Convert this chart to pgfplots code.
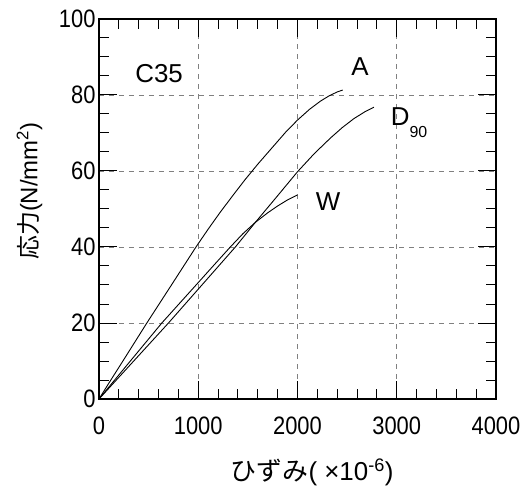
\documentclass[border=0pt]{standalone}
\usepackage{pgfplots}
\pgfplotsset{compat=1.18}
\usepackage{fontspec}
\setmainfont{Liberation Sans}
\newfontfamily\jp{Noto Sans CJK JP}
\begin{document}
\begin{tikzpicture}
\path[use as bounding box] (-99bp,-89bp) rectangle (426bp,399bp);
\begin{axis}[
  at={(0,0)}, anchor=south west,
  scale only axis, width=397bp, height=380bp,
  xmin=0, xmax=4000, ymin=0, ymax=100,
  xtick={0,1000,2000,3000,4000},
  ytick={0,20,40,60,80,100},
  minor x tick num=4, minor y tick num=3,
  tick align=inside,
  major tick length=18bp, minor tick length=10bp,
  xtick pos=both, ytick pos=both,
  grid=major,
  major grid style={gray, line width=0.8bp, dash pattern=on 5bp off 5bp},
  axis line style={line width=1.2bp},
  every tick/.style={black, line width=1bp},
  /pgf/number format/assume math mode=true,
  /pgf/number format/1000 sep={},
  ticklabel style={font=\fontsize{22}{22}\selectfont},
  xticklabel={\scalebox{1}[1.15]{\pgfmathprintnumber{\tick}}},
  yticklabel={\scalebox{1}[1.15]{\pgfmathprintnumber{\tick}}},
  xticklabel style={yshift=-14bp},
  xlabel={{\jp ひずみ}( ×10\textsuperscript{-6})},
  ylabel={{\jp 応力}(N/mm\textsuperscript{2})},
  xlabel style={font=\fontsize{26}{26}\selectfont, at={(axis description cs:0.537,-0.192)}, anchor=center},
  ylabel style={font=\fontsize{24}{24}\selectfont, at={(axis description cs:-0.175,0.547)}, anchor=center},
]
\addplot[black, line width=0.9bp] coordinates {
(0,0) (100,4.2) (241,10) (482,20) (730,30) (977,40) (1100,44.7) (1220,49.1)
(1350,53.6) (1468,57.6) (1600,61.8) (1750,66.3) (1880,70.2) (2000,73.4)
(2120,76.2) (2232,78.4) (2320,79.8) (2400,80.8) (2455,81.3)};
\addplot[black, line width=0.9bp] coordinates {
(0,0) (316,10) (633,20) (978,30) (1150,35) (1323,40) (1450,43.5) (1576,46.5)
(1700,49.0) (1800,50.8) (1900,52.4) (2000,53.7)};
\addplot[black, line width=0.9bp] coordinates {
(0,0) (350,10) (700,20) (1037,30) (1374,40) (1576,46.5) (1800,53.5) (2000,59.8)
(2170,64.6) (2333,68.7) (2450,71.4) (2569,73.8) (2680,75.6) (2770,76.8)};
\node[anchor=base west, inner sep=0, font=\fontsize{26}{26}\selectfont] at (axis cs:364,83.2) {C35};
\node[anchor=base west, inner sep=0, font=\fontsize{26}{26}\selectfont] at (axis cs:2542,85) {A};
\node[anchor=base west, inner sep=0, font=\fontsize{26}{26}\selectfont] at (axis cs:2939,72.1) {D\raisebox{-12bp}{\fontsize{16}{16}\selectfont 90}};
\node[anchor=base west, inner sep=0, font=\fontsize{26}{26}\selectfont] at (axis cs:2182,49.7) {W};
\end{axis}
\end{tikzpicture}
\end{document}
